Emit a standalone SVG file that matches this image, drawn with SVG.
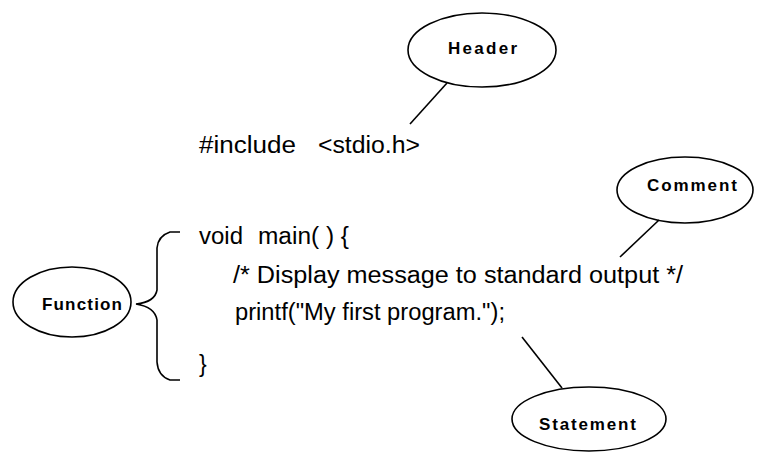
<svg xmlns="http://www.w3.org/2000/svg" width="762" height="459" viewBox="0 0 762 459">
<style>
.bg{fill:#ffffff}
.code{font-family:"Liberation Sans",Arial,sans-serif;font-size:23px;fill:#000}
.lbl{font-family:"Liberation Sans",Arial,sans-serif;font-size:17px;font-weight:bold;fill:#000}
.shape{fill:none;stroke:#000;stroke-width:1.6}
</style>
<rect class="bg" x="0" y="0" width="762" height="459"/>
<g id="code">
<text class="code" x="199" y="153" textLength="97" lengthAdjust="spacingAndGlyphs">#include</text>
<text class="code" x="318" y="153" textLength="102" lengthAdjust="spacingAndGlyphs">&lt;stdio.h&gt;</text>
<text class="code" x="199" y="244" textLength="44" lengthAdjust="spacingAndGlyphs">void</text>
<text class="code" x="258" y="244" textLength="91" lengthAdjust="spacingAndGlyphs">main( ) {</text>
<text class="code" x="233" y="283" textLength="450" lengthAdjust="spacingAndGlyphs">/* Display message to standard output */</text>
<text class="code" x="235" y="320" textLength="270" lengthAdjust="spacingAndGlyphs">printf("My first program.");</text>
<text class="code" x="199" y="372">}</text>
</g>
<g id="header">
<ellipse class="shape" cx="482" cy="50" rx="74" ry="37"/>
<text class="lbl" x="448" y="54" textLength="69">Header</text>
</g>
<g id="comment">
<ellipse class="shape" cx="685" cy="190" rx="68" ry="33"/>
<text class="lbl" x="647" y="191" textLength="90">Comment</text>
</g>
<g id="function">
<ellipse class="shape" cx="72" cy="302" rx="59" ry="35"/>
<text class="lbl" x="42" y="310" textLength="80">Function</text>
</g>
<g id="statement">
<ellipse class="shape" cx="589" cy="419" rx="77" ry="32"/>
<text class="lbl" x="539" y="430" textLength="97">Statement</text>
</g>
<g id="connectors">
<line class="shape" x1="447" y1="83" x2="410" y2="124"/>
<line class="shape" x1="659" y1="220" x2="620" y2="257"/>
<line class="shape" x1="522" y1="337" x2="562" y2="388"/>
<path class="shape" d="M180,232 L170,232 Q158,236 157,248 L157,290 Q155,302 136,304 Q155,307 157,320 L157,362 Q158,376 170,380 L180,380"/>
</g>
</svg>
